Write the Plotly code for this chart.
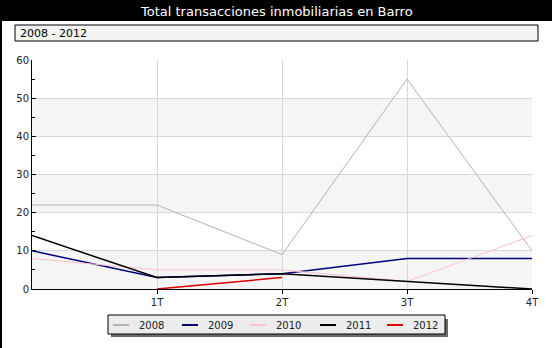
import plotly.graph_objects as go

W, H = 552, 348
L, R, T, B = 32, 532, 60, 289  # plot area in pixels

x_pos = [0, 1, 2, 3, 4]
tick_vals = [1, 2, 3, 4]
tick_labels = ["1T", "2T", "3T", "4T"]
years = ["2008", "2009", "2010", "2011", "2012"]
v2008 = [22, 22, 9, 55, 10]
v2009 = [10, 3, 4, 8, 8]
v2010 = [8, 5, 5, 2, 14]
v2011 = [14, 3, 4, 2, 0]
v2012 = [None, 0, 3, None, None]
series = [v2008, v2009, v2010, v2011, v2012]
colors = ["#b4b4b4", "#00007f", "#ffc0cb", "#000000", "#dd0000"]
widths = [1, 1.5, 1, 1.5, 1.5]
band_ranges = [(0, 10), (20, 30), (40, 50)]
legend_x = [113, 182, 250, 320, 387]  # left pixel of each legend sample

def px(x):
    return (x - L) / (R - L)

def py(y):
    return (B - y) / (B - T)

fig = go.Figure()
for name, vals, c, w in zip(years, series, colors, widths):
    fig.add_trace(go.Scatter(x=x_pos, y=vals, name=name, mode="lines",
                             line=dict(color=c, width=w), connectgaps=False,
                             showlegend=False))

shapes = []
annotations = []
# alternating bands
for y0, y1 in band_ranges:
    shapes.append(dict(type="rect", xref="paper", yref="y", x0=0, x1=1, y0=y0, y1=y1,
                       fillcolor="#f5f5f5", line=dict(width=0), layer="below"))
# title bar
shapes.append(dict(type="rect", xref="paper", yref="paper", x0=px(0), x1=px(W), y0=py(21), y1=py(-2),
                   fillcolor="black", line=dict(width=0), layer="above"))
# subtitle box
shapes.append(dict(type="rect", xref="paper", yref="paper", x0=px(15), x1=px(538), y0=py(41), y1=py(25),
                   fillcolor="#f4f4f4", line=dict(color="black", width=1), layer="above"))
# left border
shapes.append(dict(type="line", xref="paper", yref="paper", x0=px(1), x1=px(1), y0=py(0), y1=py(H),
                   line=dict(color="black", width=2), layer="above"))
# legend shadow + box
shapes.append(dict(type="rect", xref="paper", yref="paper", x0=px(111), x1=px(448), y0=py(337), y1=py(319),
                   fillcolor="#6a6a6a", line=dict(width=0), layer="above"))
shapes.append(dict(type="rect", xref="paper", yref="paper", x0=px(108), x1=px(445), y0=py(334), y1=py(315),
                   fillcolor="#ececec", line=dict(color="black", width=1), layer="above"))
for name, c, lx in zip(years, colors, legend_x):
    shapes.append(dict(type="line", xref="paper", yref="paper", x0=px(lx), x1=px(lx + 16),
                       y0=py(325), y1=py(325), line=dict(color=c, width=2), layer="above"))
    annotations.append(dict(text=name, xref="paper", yref="paper", x=px(lx + 24), y=py(325),
                            xanchor="left", yanchor="middle", showarrow=False,
                            font=dict(family="DejaVu Sans", size=10, color="#222")))

annotations += [
    dict(text="Total transacciones inmobiliarias en Barro", xref="paper", yref="paper",
         x=px(276), y=py(11), xanchor="center", yanchor="middle", showarrow=False,
         font=dict(family="DejaVu Sans", size=13, color="white")),
    dict(text="2008 - 2012", xref="paper", yref="paper",
         x=px(18), y=py(33), xanchor="left", yanchor="middle", showarrow=False,
         font=dict(family="DejaVu Sans", size=11, color="black")),
]

fig.update_layout(
    width=W, height=H,
    margin=dict(l=L, r=W - R, t=T, b=H - B, autoexpand=False),
    paper_bgcolor="white", plot_bgcolor="white",
    font=dict(family="DejaVu Sans", size=10, color="#222"),
    shapes=shapes, annotations=annotations,
    showlegend=False,
    xaxis=dict(range=[0, 4], tickvals=tick_vals, ticktext=tick_labels,
               showgrid=True, gridcolor="#d8d8d8", gridwidth=1,
               showline=True, linecolor="black", linewidth=1,
               ticks="outside", ticklen=4, tickcolor="black", zeroline=False,
               tickfont=dict(family="DejaVu Sans", size=10, color="#222")),
    yaxis=dict(range=[0, 60], dtick=10, showgrid=True, gridcolor="#d8d8d8", gridwidth=1,
               showline=True, linecolor="black", linewidth=1,
               ticks="inside", ticklen=4, tickcolor="black", zeroline=False,
               minor=dict(dtick=5, ticks="inside", ticklen=3, tickcolor="black", showgrid=False),
               tickfont=dict(family="DejaVu Sans", size=10, color="#222")),
)

fig.write_html("out.html")
